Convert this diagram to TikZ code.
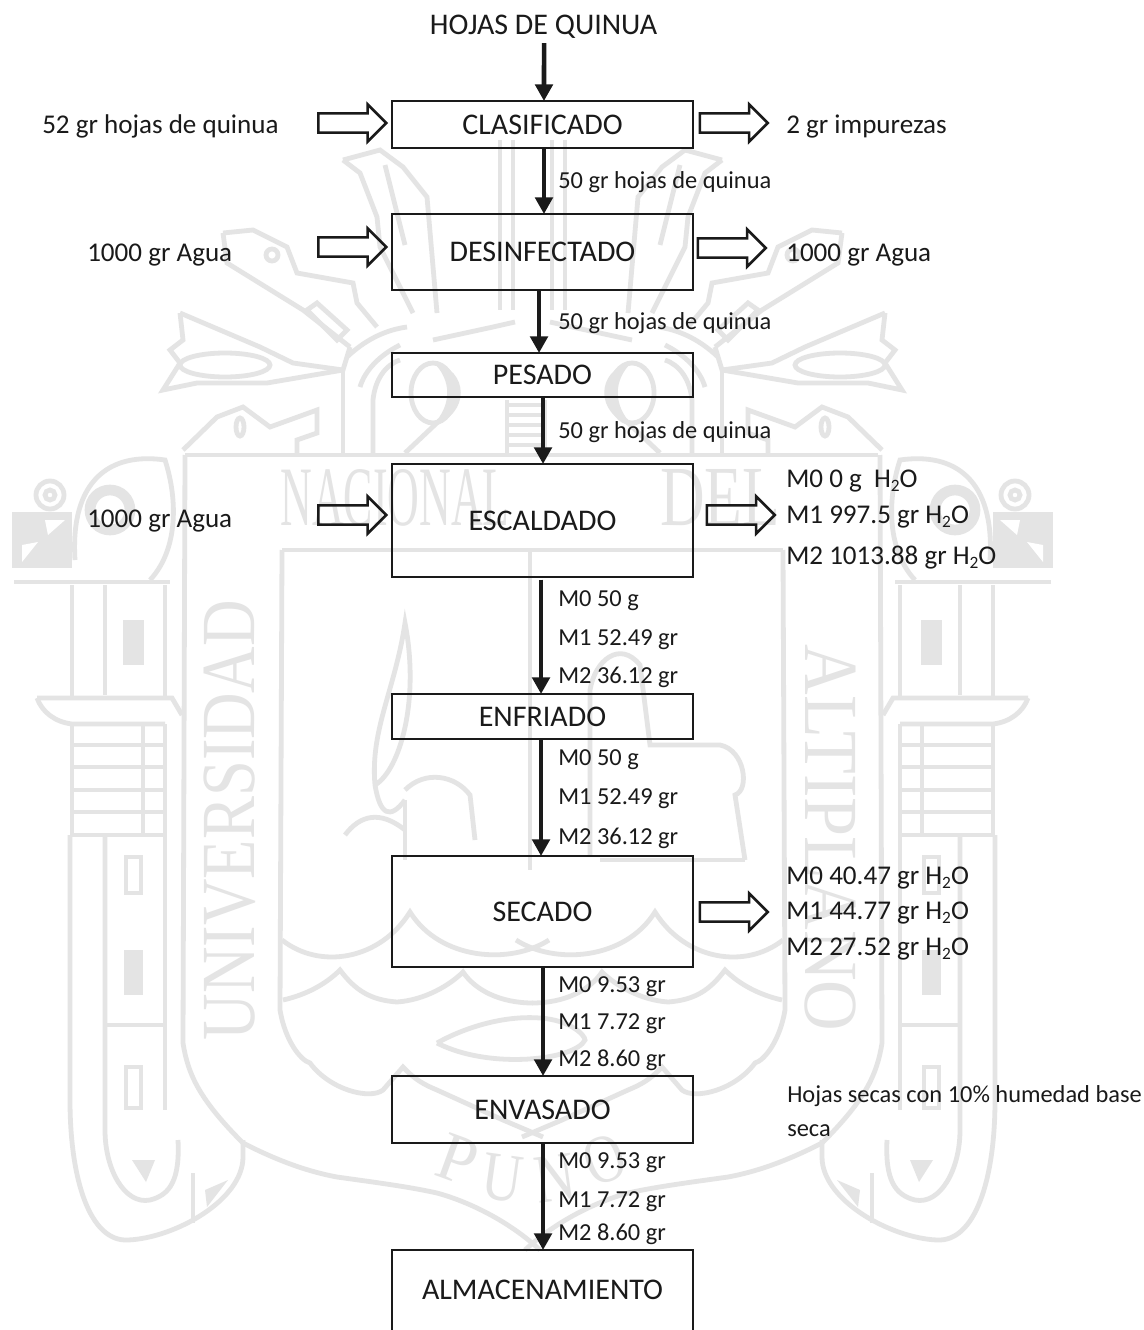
\documentclass[tikz,border=0pt]{standalone}
\usepackage{fontspec}
\usepackage{graphicx}
\setmainfont{Carlito}
\newfontfamily\wmfont{Liberation Serif}
\usetikzlibrary{arrows.meta,shapes.arrows}
\definecolor{wm}{HTML}{E4E4E4}
\definecolor{ink}{HTML}{1A1A1A}
\newcommand{\boxf}{\fontsize{22.5pt}{24pt}\selectfont}
\newcommand{\bigf}{\fontsize{20.3pt}{22pt}\selectfont}
\newcommand{\smallf}{\fontsize{18.3pt}{20pt}\selectfont}
\newcommand{\subf}{\raisebox{-3.4pt}{\fontsize{13pt}{13pt}\selectfont 2}}
\newcommand{\hdo}{H\subf O}
\newcommand{\halfcrest}{%
  % bird head
  \draw[wmline] (50,495) circle (14);
  \draw[wmline] (50,495) circle (5);
  \draw[wmline] (75,560) .. controls (70,480) and (110,452) .. (165,460) .. controls (178,500) and (178,550) .. (150,580);
  \draw[wmline,line width=8pt] (110,510) circle (20);
  \fill[wm] (12,512) rectangle (72,568);
  \fill[white] (22,545) -- (38,542) -- (22,562) -- cycle;
  \fill[white] (45,520) -- (65,520) -- (48,535) -- cycle;
  \draw[wmline] (14,582) -- (170,582);
  % upper pillar
  \draw[wmline] (72,585) -- (72,700);
  \draw[wmline] (105,585) -- (105,695);
  \draw[wmline] (165,585) -- (165,700);
  \fill[wm] (123,620) rectangle (144,665);
  % guard
  \draw[wmline] (37,698) -- (172,698) -- (182,715);
  \draw[wmline] (37,698) .. controls (42,712) and (55,722) .. (72,724) -- (165,724);
  % ladder
  \draw[wmline] (72,724) -- (72,835);
  \draw[wmline] (143,724) -- (143,835);
  \draw[wmline] (165,724) -- (165,835);
  \foreach \yy in {745,767,790,812,835} {\draw[wmline] (72,\yy) -- (165,\yy);}
  % lower pillar
  \draw[wmline] (70,835) -- (70,1100) .. controls (70,1180) and (90,1242) .. (128,1240) .. controls (175,1238) and (243,1200) .. (243,1157) -- (243,1140);
  \draw[wmline] (105,835) -- (105,1130) .. controls (105,1170) and (125,1205) .. (150,1200) .. controls (170,1195) and (180,1180) .. (178,1140);
  \draw[wmline] (193,1173) -- (193,1223);
  \draw[wmline] (165,835) -- (165,1110);
  \draw[wmline] (126,857) rectangle (141,893);
  \fill[wm] (124,950) rectangle (143,995);
  \draw[wmline] (105,1025) -- (165,1025);
  \draw[wmline] (126,1067) rectangle (141,1108);
  \fill[wm] (132,1160) -- (155,1160) -- (146,1182) -- cycle;
  \fill[wm] (205,1190) -- (228,1180) -- (207,1207) -- cycle;
  % frame and shield
  \draw[wmline] (185,455) -- (183,1043) .. controls (188,1075) and (200,1100) .. (243,1143) .. controls (280,1162) and (310,1172) .. (337,1177) .. controls (380,1183) and (410,1187) .. (437,1193) .. controls (470,1202) and (510,1222) .. (540,1250);
  \draw[wmline] (282,550) -- (280,1010) .. controls (285,1040) and (300,1060) .. (310,1063) .. controls (330,1090) and (370,1100) .. (383,1090) -- (403,1067) .. controls (415,1080) and (425,1085) .. (437,1090) -- (503,1120) -- (543,1137);
  % top ornaments
  \draw[wmline] (223,233) -- (253,230) -- (287,247) -- (297,273) -- (353,283) -- (357,303) -- (377,327);
  \draw[wmline] (223,233) -- (227,263) -- (303,310) -- (350,347);
  \draw[wmline] (307,310) -- (317,303) -- (347,330) -- (337,340) -- cycle;
  \draw[wmline] (272,255) circle (6);
  \draw[wmline] (343,160) -- (380,150) -- (403,167) -- (427,197) -- (437,313);
  \draw[wmline] (343,160) -- (360,173) -- (377,217) -- (380,247) -- (413,313);
  \draw[wmline] (385,165) -- (405,245);
  \draw[wmline] (180,313) -- (183,340) -- (170,350) -- (180,363) -- (163,390) -- (197,383) -- (267,383) -- (343,370) -- (350,347);
  \draw[wmline] (180,313) -- (260,347) -- (293,363) -- (343,370);
  \draw[wmline] (225,365) ellipse (45 and 12);
  \draw[wmline] (343,370) -- (343,453);
  \draw[wmline] (347,357) .. controls (365,340) and (385,330) .. (407,327);
  \draw[wmline] (360,387) .. controls (365,370) and (380,355) .. (400,345);
  \draw[wmline] (373,453) -- (373,400) .. controls (375,380) and (385,365) .. (400,360);
  \draw[wmline] (433,340) -- (493,327) -- (515,322);
  \draw[wmline] (433,393) ellipse (22 and 30);
  \fill[wm] (433,362) .. controls (470,370) and (470,415) .. (433,425) .. controls (452,405) and (452,380) .. (433,362);
  \draw[wmline] (405,453) -- (440,420);
  \draw[wmline] (183,450) -- (217,417) -- (243,407) -- (270,427) -- (317,410) -- (317,433) -- (297,440) -- (297,453);
  \draw[wmline] (240,427) ellipse (4 and 9);
  % water
  \draw[wmline] (282,940) .. controls (320,970) and (380,960) .. (410,912) .. controls (440,960) and (510,965) .. (549,940);
  \draw[wmline] (283,1000) .. controls (305,995) and (325,985) .. (340,970) .. controls (355,990) and (370,1000) .. (397,1002) .. controls (425,1000) and (450,985) .. (463,972) .. controls (475,990) and (500,1003) .. (533,1003);
}
\tikzset{
  x=0.75pt,y=-0.75pt,
  wmline/.style={draw=wm,line width=3.6pt,line join=miter},
  wmletter/.style={inner sep=0pt,text=wm,font=\wmfont},
  procbox/.style={draw=ink,line width=2.1pt,fill=none,inner sep=0pt,outer sep=0pt,font=\boxf,text=ink,minimum width=225.75pt},
  lab/.style={anchor=base west,inner sep=0pt,text=ink},
  biglab/.style={lab,font=\bigf},
  smalllab/.style={lab,font=\smallf},
  flow/.style={draw=ink,line width=3.4pt,-{Triangle[length=12.5pt,width=13pt]}},
  hollow/.style={shape=single arrow,draw=ink,line width=1.9pt,fill=none,inner xsep=0pt,inner ysep=6.2pt,
    minimum height=51pt,single arrow head extend=6.8pt,single arrow head indent=0pt},
}
\begin{document}
\begin{tikzpicture}
\useasboundingbox (0,0) rectangle (1144,1330);
\fill[white] (0,0) rectangle (1144,1330);
% ---------- watermark crest ----------
\halfcrest
\begin{scope}[shift={(1065,0)},xscale=-1]
\halfcrest
\end{scope}
\draw[wmline] (185,455) -- (878,455);
\draw[wmline] (282,550) -- (783,550);
\draw[wmline] (530,550) -- (530,870);
\draw[wmline] (500,140) -- (500,310) (513,140) -- (513,310);
\draw[wmline] (552,140) -- (552,310) (565,140) -- (565,310);
\foreach \yy in {405,415,425,435,445} {\draw[wm,line width=2.4pt] (507,\yy) -- (545,\yy);}
\draw[wmline] (507,400) -- (507,453) (545,400) -- (545,453);
\draw[wmline] (375,785) .. controls (400,770) and (420,700) .. (405,623) .. controls (395,690) and (370,730) .. (375,785) .. controls (380,815) and (390,820) .. (405,800);
\draw[wmline] (405,800) -- (405,860);
\draw[wmline] (405,790) .. controls (425,770) and (455,775) .. (470,795) -- (475,840);
\draw[wmline] (405,830) .. controls (380,810) and (360,815) .. (345,835);
\draw[wmline] (590,856) -- (590,690) .. controls (595,660) and (620,640) .. (640,665) -- (650,745) -- (720,745) .. controls (745,750) and (750,790) .. (735,795) -- (745,860);
\draw[wmline] (600,860) -- (745,860);
\draw[wmline] (437,1043) .. controls (460,1030) and (500,1015) .. (540,1018) .. controls (570,1020) and (585,1035) .. (585,1040) .. controls (575,1060) and (490,1070) .. (437,1043);
\node[wmletter] (wmnac) at (395,498) {\resizebox{172pt}{42pt}{NACIONAL}};
\node[wmletter] (wmdel) at (720,498) {\resizebox{90pt}{42pt}{DEL}};
\node[wmletter,rotate=90] (wmuni) at (230,820) {\resizebox{330pt}{38pt}{UNIVERSIDAD}};
\node[wmletter,rotate=-90] (wmalt) at (830,838) {\resizebox{290pt}{38pt}{ALTIPLANO}};
\node[wmletter,rotate=-20] (wmp) at (458,1160) {\resizebox{28pt}{34pt}{P}};
\node[wmletter,rotate=-8] (wmu) at (502,1178) {\resizebox{30pt}{34pt}{U}};
\node[wmletter,rotate=8] (wmn) at (555,1178) {\resizebox{30pt}{34pt}{N}};
\node[wmletter,rotate=20] (wmo) at (605,1160) {\resizebox{30pt}{34pt}{O}};
% ---------- process boxes ----------
\node[procbox,minimum height=35.25pt] (clas) at (542.5,124.5) {CLASIFICADO};
\node[procbox,minimum height=57pt] (desi) at (542.5,252) {DESINFECTADO};
\node[procbox,minimum height=33pt] (pesa) at (542.5,375) {PESADO};
\node[procbox,minimum height=84.75pt] (esca) at (542.5,520.5) {ESCALDADO};
\node[procbox,minimum height=33.75pt] (enfr) at (542.5,716.5) {ENFRIADO};
\node[procbox,minimum height=83.25pt] (seca) at (542.5,911.5) {SECADO};
\node[procbox,minimum height=50.25pt] (enva) at (542.5,1109.5) {ENVASADO};
\node[procbox,draw=none,minimum height=60pt] (alma) at (542.5,1290) {ALMACENAMIENTO};
\draw[draw=ink,line width=2.1pt] (alma.south west) -- (alma.north west) -- (alma.north east) -- (alma.south east);
% ---------- top label and flow ----------
\node[anchor=base,inner sep=0pt,font=\boxf,text=ink] (hoja) at (543.5,35) {HOJAS DE QUINUA};
\draw[flow] ([xshift=0.4pt,yshift=-3pt]hoja.south) -- ([xshift=1.1pt]clas.north);
\draw[flow] ([xshift=1.1pt]clas.south) -- ([xshift=1.1pt]desi.north);
\draw[flow] ([xshift=-2.6pt]desi.south) -- ([xshift=-2.6pt]pesa.north);
\draw[flow] ([xshift=0.4pt]pesa.south) -- ([xshift=0.4pt]esca.north);
\draw[flow] ([xshift=-1.1pt,yshift=-2pt]esca.south) -- ([xshift=-1.1pt]enfr.north);
\draw[flow] ([xshift=-1.1pt]enfr.south) -- ([xshift=-1.1pt]seca.north);
\draw[flow] ([xshift=0.4pt]seca.south) -- ([xshift=0.4pt]enva.north);
\draw[flow] ([xshift=0.4pt]enva.south) -- ([xshift=0.4pt]alma.north);
% ---------- hollow arrows ----------
\node[hollow] (hl1) at (347.5,123) {};
\node[hollow] (hr1) at (729,123) {};
\node[hollow] (hl2) at (347.5,247) {};
\node[hollow] (hr2) at (727,248) {};
\node[hollow] (hl3) at (347.5,515) {};
\node[hollow] (hr3) at (736,515) {};
\node[hollow] (hr4) at (729,912) {};
% ---------- side labels ----------
\node[biglab] (t1) at (42,134) {52 gr hojas de quinua};
\node[biglab] (t2) at (786,134) {2 gr impurezas};
\node[biglab] (t3) at (87,262) {1000 gr Agua};
\node[biglab] (t4) at (786,262) {1000 gr Agua};
\node[biglab] (t5) at (87,527) {1000 gr Agua};
\node[smalllab] (f1) at (558,189) {50 gr hojas de quinua};
\node[smalllab] (f2) at (558,329) {50 gr hojas de quinua};
\node[smalllab] (f3) at (558,438) {50 gr hojas de quinua};
\node[biglab] (w1) at (786,487) {M0 0 g\ \ \hdo};
\node[biglab] (w2) at (786,523) {M1 997.5 gr \hdo};
\node[biglab] (w3) at (786,564) {M2 1013.88 gr \hdo};
\node[smalllab] (a1) at (558,606) {M0 50 g};
\node[smalllab] (a2) at (558,645) {M1 52.49 gr};
\node[smalllab] (a3) at (558,683) {M2 36.12 gr};
\node[smalllab] (b1) at (558,765) {M0 50 g};
\node[smalllab] (b2) at (558,804) {M1 52.49 gr};
\node[smalllab] (b3) at (558,844) {M2 36.12 gr};
\node[biglab] (s1) at (786,884) {M0 40.47 gr \hdo};
\node[biglab] (s2) at (786,919) {M1 44.77 gr \hdo};
\node[biglab] (s3) at (786,955) {M2 27.52 gr \hdo};
\node[smalllab] (c1) at (558,992) {M0 9.53 gr};
\node[smalllab] (c2) at (558,1029) {M1 7.72 gr};
\node[smalllab] (c3) at (558,1066) {M2 8.60 gr};
\node[smalllab] (h1) at (787,1102) {Hojas secas con 10\% humedad base};
\node[smalllab] (h2) at (787,1136) {seca};
\node[smalllab] (d1) at (558,1168) {M0 9.53 gr};
\node[smalllab] (d2) at (558,1207) {M1 7.72 gr};
\node[smalllab] (d3) at (558,1240) {M2 8.60 gr};
\end{tikzpicture}
\end{document}
